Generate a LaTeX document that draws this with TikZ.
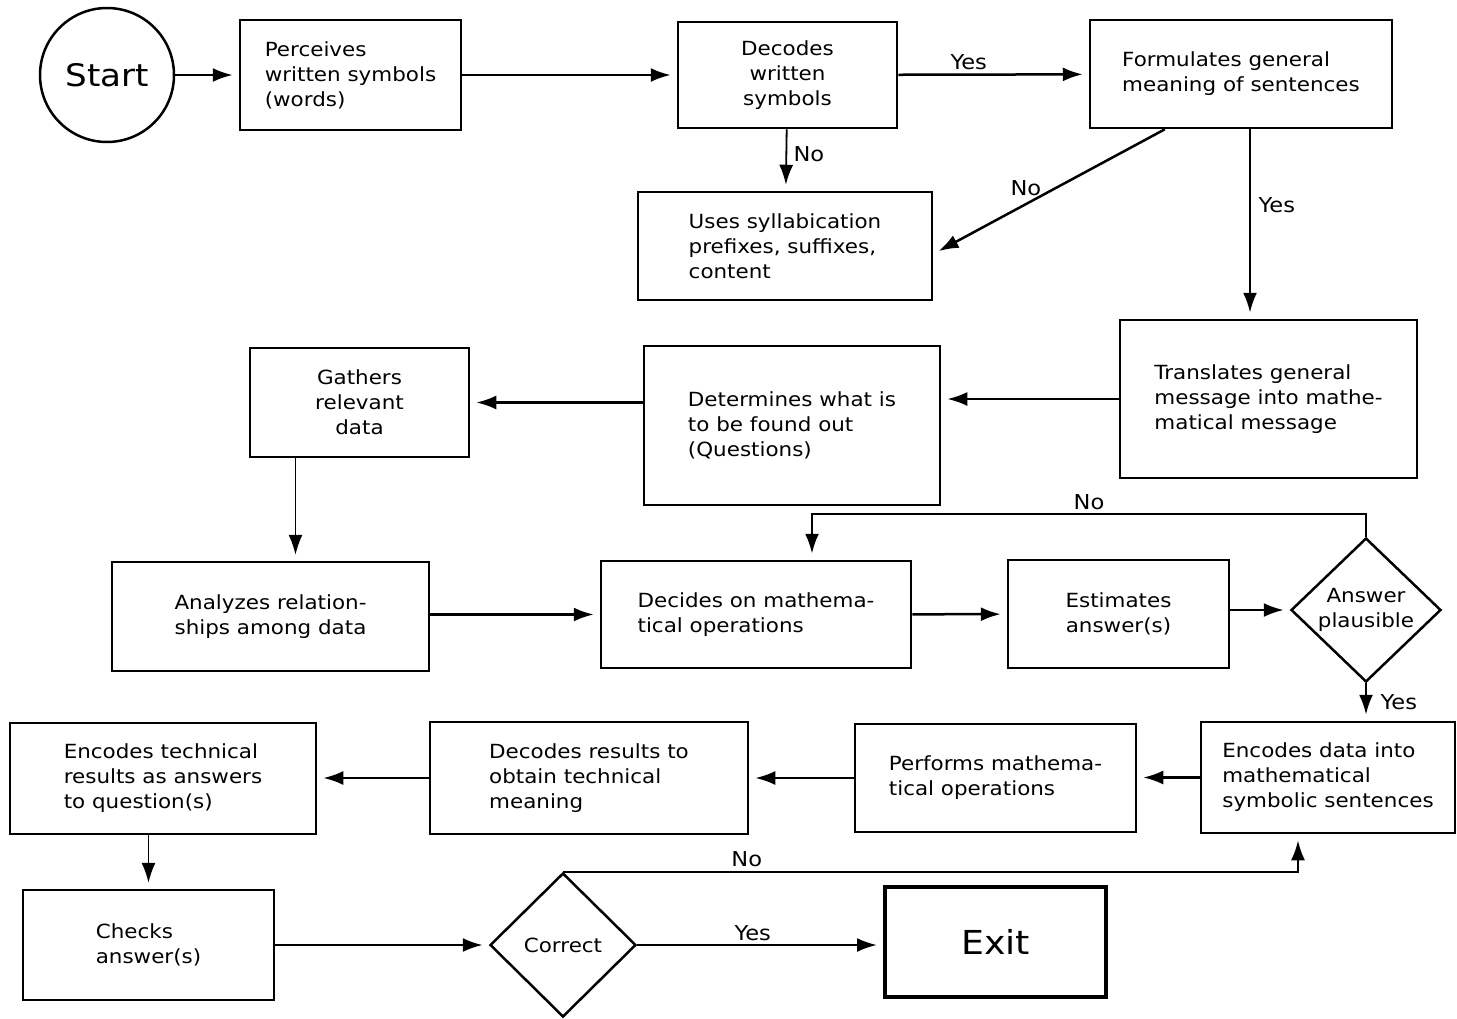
\documentclass[tikz,border=0pt]{standalone}
\usepackage{fontspec}
\setmainfont[FakeStretch=1.1]{DejaVu Sans}
\usetikzlibrary{arrows.meta,positioning,shapes.geometric,calc}

\begin{document}
\begin{tikzpicture}[x=1pt,y=-1pt,
    every node/.style={font=\fontsize{19.5}{25}\selectfont},
    box/.style={draw,line width=2.5pt,inner sep=0pt},
    decision/.style={draw,diamond,line width=2.5pt,inner sep=0pt,align=center},
    arr/.style={line width=2.5pt,-{Latex[length=20pt,width=14pt]},shorten >=6pt},
    thinarr/.style={arr,line width=1.5pt},
    lbl/.style={font=\fontsize{20.5}{24}\selectfont}]
    \useasboundingbox (0,0) rectangle (1457,1018);
    % Row 1
    \node[circle,draw,line width=2.5pt,minimum size=134pt,inner sep=0pt,
      font=\fontsize{31}{36}\selectfont] (start) at (107,75) {Start};
    \node[box,minimum width=221pt,minimum height=110pt,align=left] (perceive) at (350.5,75)
      {Perceives\\written symbols\\(words)};
    \node[box,minimum width=219pt,minimum height=106pt,align=center] (decodeW) at (787.5,75)
      {Decodes\\written\\symbols};
    \node[box,minimum width=302pt,minimum height=108pt,align=left] (formulate) at (1241,74)
      {Formulates general\\meaning of sentences};
    \node[box,minimum width=294pt,minimum height=108pt,align=left] (syllab) at (785,246)
      {Uses syllabication\\prefixes, suffixes,\\content};
    % Row 2
    \node[box,minimum width=297pt,minimum height=158pt,align=left] (translate) at (1268.5,399)
      {Translates general\\message into mathe-\\matical message};
    \node[box,minimum width=296pt,minimum height=159pt,align=left] (determine) at (792,425.5)
      {Determines what is\\to be found out\\(Questions)};
    \node[box,minimum width=219pt,minimum height=109pt,align=center] (gather) at (359.5,402.5)
      {Gathers\\relevant\\data};
    % Row 3
    \node[box,minimum width=317pt,minimum height=109pt,align=center] (analyze) at (270.5,616.5)
      {Analyzes relation-\\ships among data};
    \node[box,minimum width=310pt,minimum height=107pt,align=left] (decide) at (756,614.5)
      {Decides on mathema-\\tical operations};
    \node[box,minimum width=221pt,minimum height=108pt,align=center] (estimate) at (1118.5,614)
      {Estimates\\answer(s)};
    \node[decision,minimum width=150pt,minimum height=144pt] (plausible) at (1366,610)
      {Answer\\plausible};
    % Row 4
    \node[box,minimum width=254pt,minimum height=111pt,align=left] (encodeD) at (1328,777.5)
      {Encodes data into\\mathematical\\symbolic sentences};
    \node[box,minimum width=281pt,minimum height=108pt,align=left] (perform) at (995.5,778)
      {Performs mathema-\\tical operations};
    \node[box,minimum width=318pt,minimum height=112pt,align=left] (decodeR) at (589,778)
      {Decodes results to\\obtain technical\\meaning};
    \node[box,minimum width=306pt,minimum height=111pt,align=left] (encodeT) at (163,778.5)
      {Encodes technical\\results as answers\\to question(s)};
    % Row 5
    \node[box,minimum width=251pt,minimum height=110pt,align=left] (check) at (148.5,945)
      {Checks\\answer(s)};
    \node[decision,minimum width=146pt,minimum height=144pt] (correct) at (563,945) {Correct};
    \node[box,line width=4pt,minimum width=221pt,minimum height=110pt,
      font=\fontsize{33}{38}\selectfont] (exit) at (995.5,942) {Exit};
    % Connectors
    \coordinate (noA) at (1366,514);
    \coordinate (decideIn) at ([xshift=56pt]decide.north);
    \coordinate (encodeIn) at ([xshift=-30pt]encodeD.south);
    \draw[arr] (start) -- (perceive);
    \draw[arr] (perceive) -- (decodeW);
    \draw[arr] (decodeW) -- node[lbl,above,pos=0.37] {Yes} (formulate);
    \draw[arr,line width=1.8pt] (decodeW) -- node[lbl,right=3pt,pos=0.4] {No} (syllab);
    \draw[arr] ($(formulate.south west)!0.25!(formulate.south east)$)
      -- node[lbl,above=4pt,pos=0.6] {No} ([yshift=-8pt]syllab.east);
    \draw[arr] ([xshift=9pt]formulate.south) -- node[lbl,right=4pt,pos=0.4] {Yes}
      ([xshift=9pt]formulate.south |- translate.north);
    \draw[arr] (translate.west) -- (translate.west -| determine.east);
    \draw[arr] (gather.east -| determine.west) -- (gather.east);
    \draw[thinarr] ([xshift=-64pt]gather.south) -- ([xshift=-64pt]gather.south |- analyze.north);
    \draw[arr] (analyze.east |- decide.west) -- (decide.west);
    \draw[arr] (decide) -- (estimate);
    \draw[arr] (estimate.east |- plausible.west) -- (plausible.west);
    \draw[arr] (plausible.north) -- (noA) -- node[lbl,above] {No}
      (noA -| decideIn) -- (decideIn);
    \draw[arr] (plausible.south) -- node[lbl,right=10pt] {Yes} (plausible.south |- encodeD.north);
    \draw[arr] (encodeD.west) -- (encodeD.west -| perform.east);
    \draw[arr] (perform.west) -- (perform.west -| decodeR.east);
    \draw[arr] (decodeR.west) -- (decodeR.west -| encodeT.east);
    \draw[thinarr] (check.north |- encodeT.south) -- (check.north);
    \draw[arr] (check) -- (correct);
    \draw[arr] (correct.east) -- node[lbl,above,pos=0.47] {Yes} (correct.east -| exit.west);
    \draw[arr] (correct.north) -- node[lbl,above,pos=0.25] {No}
      (correct.north -| encodeIn) -- (encodeIn);
\end{tikzpicture}
\end{document}
